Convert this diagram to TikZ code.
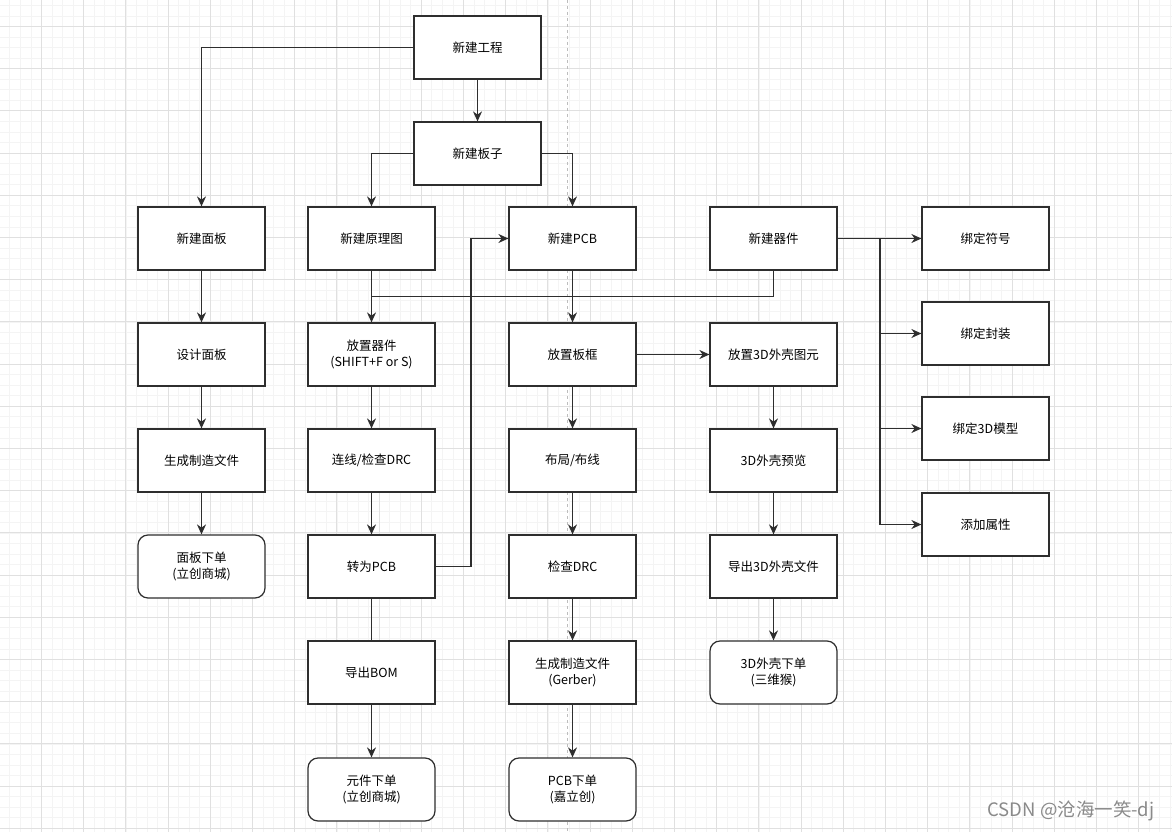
\documentclass[tikz,border=0pt]{standalone}
\usepackage{fontspec}
\setmainfont{Noto Sans CJK SC}
\usetikzlibrary{arrows.meta}
\definecolor{ink}{HTML}{2E2E2E}
\definecolor{gridmaj}{HTML}{E0E0E0}
\definecolor{gridmin}{HTML}{F4F4F4}
\definecolor{guide}{HTML}{BDBDBD}
\definecolor{mark}{HTML}{8A8A8A}
\tikzset{
  font=\fontsize{12.5}{16}\selectfont,
  box/.style={draw=ink,line width=1.2pt,fill=white,minimum width=127pt,minimum height=63pt,align=center,inner sep=2pt},
  order/.style={box,rounded corners=10pt},
  link/.style={draw=ink,line width=1.1pt},
  trunk/.style={link,line width=1.6pt},
  arr/.style={link,-{Stealth[length=10pt,width=9pt]}},
  minorgrid/.style={draw=gridmin,line width=0.8pt},
  majorgrid/.style={draw=gridmaj,line width=1pt}
}

\begin{document}
\begin{tikzpicture}[x=1pt,y=-1pt]
\useasboundingbox[fill=white] (0,0) rectangle (1172,832);
\begin{scope}[shift={(41.5,26.5)}]
\draw[minorgrid,step=10.55pt] (-41.5,-26.5) grid (1130.5,805.5);
\draw[majorgrid,step=42.2pt] (-41.5,-26.5) grid (1130.5,805.5);
\end{scope}
\coordinate (guidetop) at (567,0);
\coordinate (guidebot) at (567,832);
\draw[guide,dashed,line width=0.8pt] (guidetop) -- (guidebot);

% project and board
\node[box] (proj) at (477.5,47.5) {新建工程};
\node[box] (board) at (477.5,153.5) {新建板子};

% panel column
\node[box] (panel) at (201.5,238.5) {新建面板};
\node[box] (design) at (201.5,354.5) {设计面板};
\node[box] (mfg) at (201.5,460.5) {生成制造文件};
\node[order] (porder) at (201.5,566.5) {面板下单\\(立创商城)};

% schematic column
\node[box] (sch) at (371.5,238.5) {新建原理图};
\node[box] (place) at (371.5,354.5) {放置器件\\(SHIFT+F or S)};
\node[box] (wire) at (371.5,460.5) {连线/检查DRC};
\node[box] (topcb) at (371.5,566.5) {转为PCB};
\node[box] (bom) at (371.5,672.5) {导出BOM};
\node[order] (corder) at (371.5,789.5) {元件下单\\(立创商城)};

% pcb column
\node[box] (pcb) at (572.5,238.5) {新建PCB};
\node[box] (frame) at (572.5,354.5) {放置板框};
\node[box] (layout) at (572.5,460.5) {布局/布线};
\node[box] (drc) at (572.5,566.5) {检查DRC};
\node[box] (gerber) at (572.5,672.5) {生成制造文件\\(Gerber)};
\node[order] (pcborder) at (572.5,789.5) {PCB下单\\(嘉立创)};

% part and shell column
\node[box] (part) at (773.5,238.5) {新建器件};
\node[box] (shell) at (773.5,354.5) {放置3D外壳图元};
\node[box] (preview) at (773.5,460.5) {3D外壳预览};
\node[box] (export) at (773.5,566.5) {导出3D外壳文件};
\node[order] (shorder) at (773.5,672.5) {3D外壳下单\\(三维猴)};

% part bindings
\node[box] (sym) at (985.5,238.5) {绑定符号};
\node[box] (fp) at (985.5,333.5) {绑定封装};
\node[box] (model) at (985.5,428.5) {绑定3D模型};
\node[box] (attr) at (985.5,524.5) {添加属性};

\coordinate (join) at (371.5,296.5);
\coordinate (back) at (471,238.5);
\coordinate (bus) at (880,238.5);
\coordinate (busmid) at (880,428.5);

\draw[arr] (proj.west) -| (panel.north);
\draw[arr] (proj) -- (board);
\draw[arr] (board.west) -| (sch.north);
\draw[arr] (board.east) -| (pcb.north);

\draw[arr] (panel) -- (design);
\draw[arr] (design) -- (mfg);
\draw[arr] (mfg) -- (porder);

\draw[arr] (sch) -- (place);
\draw[link] (part.south) |- (join);
\draw[arr] (place) -- (wire);
\draw[arr] (wire) -- (topcb);
\draw[arr] (topcb.east) -| (back) -- (pcb.west);
\draw[link] (topcb) -- (bom);
\draw[arr] (bom) -- (corder);

\draw[arr] (pcb) -- (frame);
\draw[arr] (frame) -- (layout);
\draw[arr] (layout) -- (drc);
\draw[arr] (drc) -- (gerber);
\draw[arr] (gerber) -- (pcborder);
\draw[arr] (frame) -- (shell);

\draw[arr] (shell) -- (preview);
\draw[arr] (preview) -- (export);
\draw[arr] (export) -- (shorder);

\draw[trunk] (part.east) -- (bus) -- (busmid);
\draw[arr] (bus) -- (sym.west);
\draw[arr] (bus) |- (fp.west);
\draw[arr] (bus) |- (model.west);
\draw[arr] (bus) |- (attr.west);

\node[anchor=east,text=mark,font=\fontsize{18.5}{22}\selectfont] (wm) at (1158,811) {CSDN @沧海一笑-dj};
\end{tikzpicture}
\end{document}
